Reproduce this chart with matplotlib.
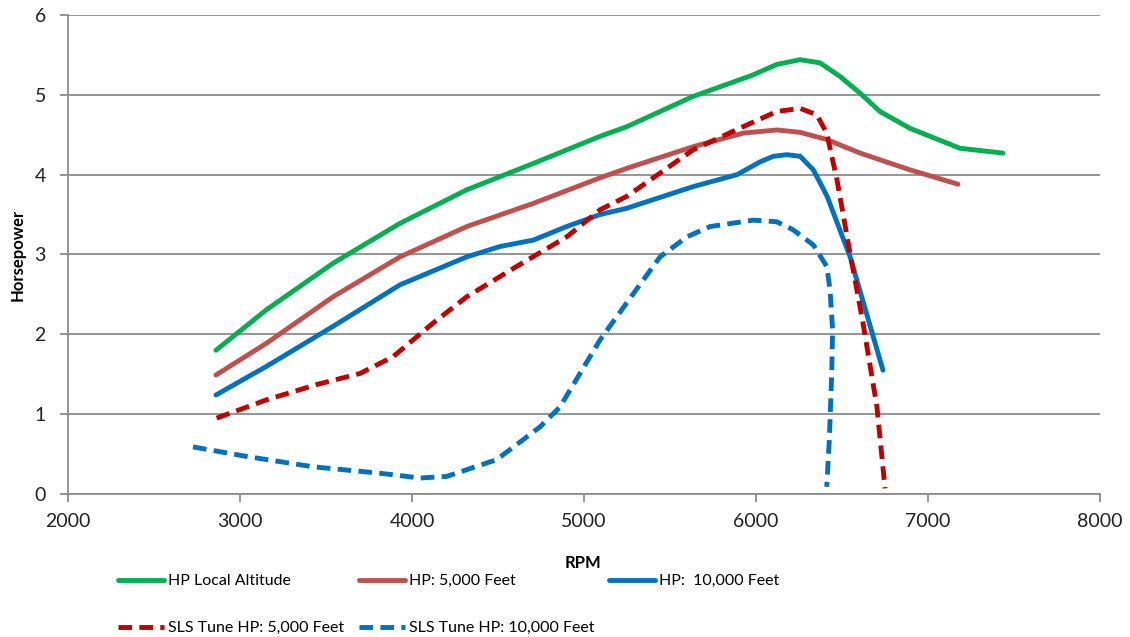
import numpy as np
import matplotlib.pyplot as plt

plt.rcParams['font.family'] = ['Lato', 'DejaVu Sans']

# values (RPM, horsepower)
rpm_local = [2860, 3155, 3541, 3930, 4318, 4705, 5093, 5248, 5634, 5829, 5983, 6120, 6256,
             6372, 6488, 6605, 6721, 6895, 7186, 7436]
hp_local = [1.80, 2.31, 2.89, 3.39, 3.81, 4.14, 4.48, 4.60, 4.98, 5.13, 5.25, 5.38, 5.44,
            5.40, 5.23, 5.02, 4.79, 4.58, 4.33, 4.27]

rpm_5k = [2860, 3155, 3541, 3930, 4318, 4705, 5093, 5250, 5634, 5924, 6122, 6256, 6411,
          6605, 6895, 7174]
hp_5k = [1.49, 1.89, 2.47, 2.97, 3.35, 3.64, 3.96, 4.08, 4.35, 4.52, 4.56, 4.53, 4.44,
         4.27, 4.06, 3.88]

rpm_10k = [2860, 3155, 3541, 3930, 4318, 4512, 4705, 4899, 5093, 5250, 5634, 5890, 6023,
           6101, 6180, 6256, 6333, 6413, 6547, 6738]
hp_10k = [1.24, 1.60, 2.10, 2.62, 2.97, 3.10, 3.18, 3.35, 3.50, 3.58, 3.85, 4.00, 4.16,
          4.23, 4.25, 4.23, 4.06, 3.73, 2.97, 1.55]

rpm_sls5k = [2864, 3155, 3445, 3698, 3890, 4122, 4318, 4608, 4899, 5093, 5250, 5634, 5924,
             6120, 6256, 6353, 6411, 6471, 6547, 6622, 6703, 6750]
hp_sls5k = [0.95, 1.18, 1.37, 1.51, 1.72, 2.14, 2.47, 2.85, 3.22, 3.56, 3.73, 4.31, 4.60,
            4.79, 4.83, 4.75, 4.52, 3.93, 3.01, 2.14, 1.09, 0.07]

rpm_sls10k = [2727, 3039, 3427, 3814, 4047, 4201, 4492, 4744, 4860, 5093, 5287, 5442, 5597,
              5733, 5983, 6120, 6215, 6333, 6411, 6430, 6445, 6440, 6426, 6411]
hp_sls10k = [0.59, 0.47, 0.34, 0.26, 0.20, 0.22, 0.43, 0.84, 1.09, 1.93, 2.51, 2.97, 3.22,
             3.35, 3.43, 3.41, 3.31, 3.12, 2.85, 2.56, 2.06, 1.51, 0.68, 0.09]

labels = ['HP Local Altitude', 'HP: 5,000 Feet', 'HP:  10,000 Feet',
          'SLS Tune HP: 5,000 Feet', 'SLS Tune HP: 10,000 Feet']

fig = plt.figure(figsize=(11.3, 6.37), dpi=100)
ax = fig.add_axes([0.0602, 0.2245, 0.9133, 0.752])

lw = 3.5
l1, = ax.plot(rpm_local, hp_local, color='#00B050', lw=lw, solid_capstyle='round', solid_joinstyle='round')
l2, = ax.plot(rpm_5k, hp_5k, color='#C0504D', lw=lw, solid_capstyle='round', solid_joinstyle='round')
l3, = ax.plot(rpm_10k, hp_10k, color='#0070C0', lw=lw, solid_capstyle='round', solid_joinstyle='round')
l4, = ax.plot(rpm_sls5k, hp_sls5k, color='#C00000', lw=lw, dashes=(2.8, 1.5), dash_joinstyle='round')
l5, = ax.plot(rpm_sls10k, hp_sls10k, color='#0070C0', lw=lw, dashes=(2.8, 1.5), dash_joinstyle='round')

ax.set_xlim(2000, 8000)
ax.set_ylim(0, 6)
ax.set_xticks(range(2000, 8001, 1000))
ax.set_yticks(range(0, 7))
ax.grid(axis='y', color='#8c8c8c', lw=1.3)
ax.set_axisbelow(True)
for s in ['top', 'right']:
    ax.spines[s].set_visible(False)
for s in ['left', 'bottom']:
    ax.spines[s].set_color('#8c8c8c')
    ax.spines[s].set_linewidth(1.3)
ax.tick_params(colors='#8c8c8c', labelcolor='#222222', labelsize=14, length=6, width=1.3)
ax.tick_params(axis='x', pad=8)
ax.tick_params(axis='y', pad=10)

fig.text(583 / 1130, 1 - 563 / 637, 'RPM', ha='center', va='center', fontsize=12, fontweight='bold')
fig.text(18 / 1130, 1 - 255 / 637, 'Horsepower', ha='center', va='center', rotation=90,
         fontsize=12, fontweight='bold')

fig.legend([l1, l4, l2, l5, l3], [labels[0], labels[3], labels[1], labels[4], labels[2]],
           ncol=3, loc='upper left', bbox_to_anchor=(118 / 1130, 1 - 574 / 637),
           frameon=False, fontsize=11.5, borderpad=0, handlelength=2.9, handletextpad=0.25,
           columnspacing=0.9, labelspacing=2.05, borderaxespad=0)

fig.savefig('out.png', dpi=100)
